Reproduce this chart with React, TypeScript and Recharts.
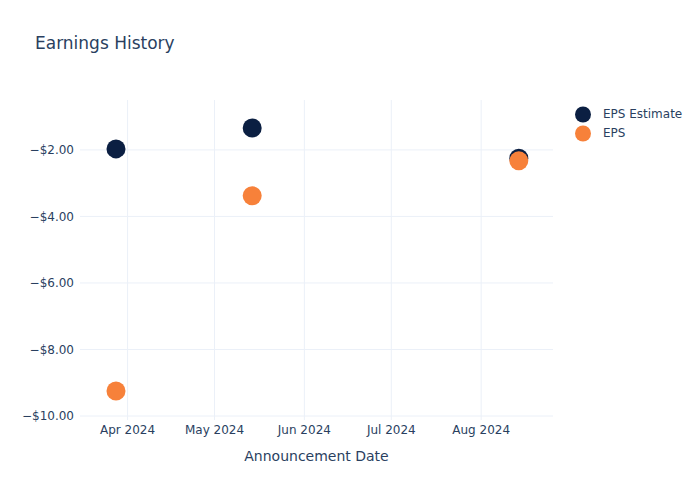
import { ScatterChart, Scatter, XAxis, YAxis, CartesianGrid, Label } from 'recharts';

const announcementDates = ['2024-03-28', '2024-05-14', '2024-08-14'];
const epsEstimate = [-1.97, -1.34, -2.25];
const epsActual = [-9.25, -3.38, -2.33];
const xTickDates = ['2024-04-01', '2024-05-01', '2024-06-01', '2024-07-01', '2024-08-01'];
const yTicks = [-10, -8, -6, -4, -2];

const MONTHS = ['Jan', 'Feb', 'Mar', 'Apr', 'May', 'Jun', 'Jul', 'Aug', 'Sep', 'Oct', 'Nov', 'Dec'];
const FONT = '"DejaVu Sans", Verdana, sans-serif';
const TEXT = '#2a3f5f';
const NAVY = '#0b1f42';
const ORANGE = '#f7813a';

const ts = (d: string) => new Date(d + 'T00:00:00Z').getTime();

const estimateData = announcementDates.map((d, i) => ({ x: ts(d), y: epsEstimate[i] }));
const actualData = announcementDates.map((d, i) => ({ x: ts(d), y: epsActual[i] }));
const xTicks = xTickDates.map(ts);

const fmtDate = (v: number) => {
  const d = new Date(v);
  return `${MONTHS[d.getUTCMonth()]} ${d.getUTCFullYear()}`;
};
const fmtMoney = (v: number) => (v < 0 ? '\u2212' : '') + '$' + Math.abs(v).toFixed(2);

const Dot = (color: string) => (props: any) => (
  <circle cx={props.cx} cy={props.cy} r={9.5} fill={color} />
);

const legendItems = [
  { name: 'EPS Estimate', color: NAVY },
  { name: 'EPS', color: ORANGE },
];

const LegendBox = () => (
  <div
    style={{
      position: 'absolute',
      left: 575,
      top: 104.5,
      fontFamily: FONT,
      fontSize: 12,
      color: TEXT,
    }}
  >
    {legendItems.map((item) => (
      <div key={item.name} style={{ display: 'flex', alignItems: 'center', height: 19 }}>
        <svg width={28} height={19}>
          <circle cx={8} cy={9.5} r={8} fill={item.color} />
        </svg>
        <span>{item.name}</span>
      </div>
    ))}
  </div>
);

export default function App() {
  return (
    <div style={{ position: 'absolute', left: 0, top: 0, width: 700, height: 500, background: '#fff' }}>
      <div
        style={{
          position: 'absolute',
          left: 35,
          top: 33,
          fontFamily: FONT,
          fontSize: 17,
          color: TEXT,
        }}
      >
        Earnings History
      </div>
      <ScatterChart width={700} height={500} margin={{ top: 100, right: 147, bottom: 0, left: 0 }}>
        <CartesianGrid stroke="#EBF0F8" horizontalValues={yTicks} verticalValues={xTicks} />
        <XAxis
          type="number"
          dataKey="x"
          scale="time"
          domain={[Date.UTC(2024, 2, 15, 14), Date.UTC(2024, 7, 25, 19)]}
          ticks={xTicks}
          tickFormatter={fmtDate}
          height={80}
          axisLine={false}
          tickLine={false}
          tickSize={0}
          tickMargin={5}
          tick={{ fill: TEXT, fontSize: 12, fontFamily: FONT }}
          allowDataOverflow
        >
          <Label
            value="Announcement Date"
            position="insideBottom"
            offset={39}
            style={{ fill: TEXT, fontSize: 14, fontFamily: FONT }}
          />
        </XAxis>
        <YAxis
          type="number"
          dataKey="y"
          domain={[-10.12, -0.5]}
          ticks={yTicks}
          tickFormatter={fmtMoney}
          width={80}
          axisLine={false}
          tickLine={false}
          tickSize={0}
          tickMargin={6}
          tick={{ fill: TEXT, fontSize: 12, fontFamily: FONT }}
          allowDataOverflow
        />
        <Scatter name="EPS Estimate" data={estimateData} fill={NAVY} shape={Dot(NAVY)} isAnimationActive={false} />
        <Scatter name="EPS" data={actualData} fill={ORANGE} shape={Dot(ORANGE)} isAnimationActive={false} />
      </ScatterChart>
      <LegendBox />
    </div>
  );
}
